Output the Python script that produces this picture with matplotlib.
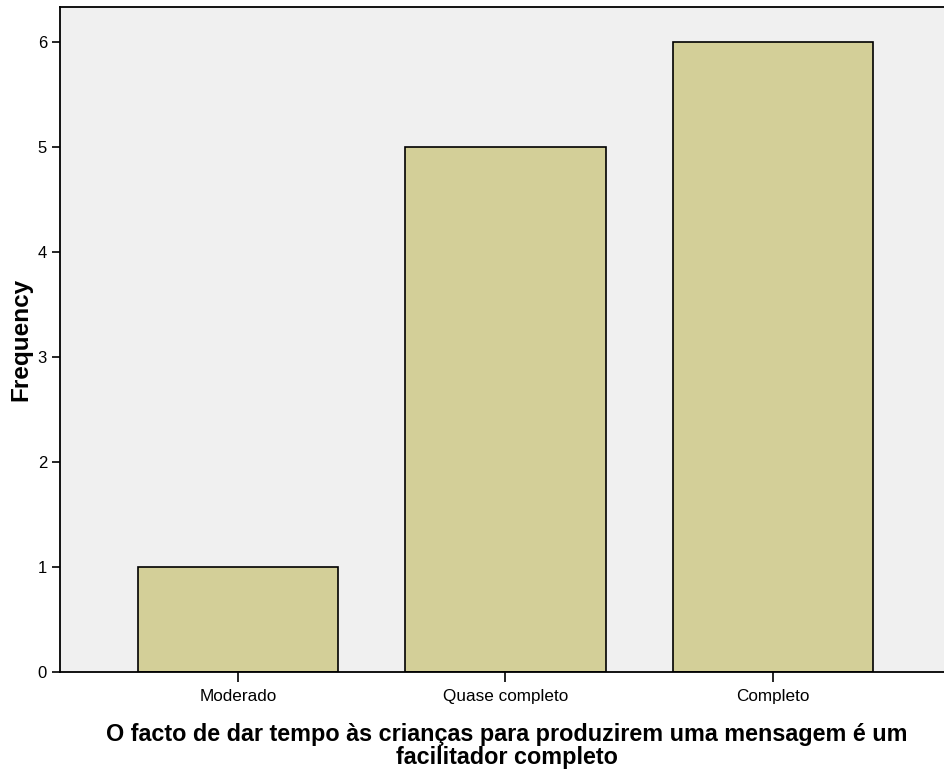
import matplotlib.pyplot as plt

plt.rcParams['font.family'] = ['Liberation Sans', 'DejaVu Sans']

categories = ['Moderado', 'Quase completo', 'Completo']
frequencies = [1, 5, 6]
y_ticks = [0, 1, 2, 3, 4, 5, 6]

fig = plt.figure(figsize=(9.45, 7.71), dpi=100)
ax = fig.add_axes([0.063, 0.1284, 0.937, 0.8619])
ax.set_facecolor('#f0f0f0')

x = range(len(categories))
ax.bar(x, frequencies, width=0.75, color='#d3cf98', edgecolor='black', linewidth=1.2)

ax.set_xlim(-0.667, 2.643)
ax.set_ylim(0, 6.33)
ax.set_xticks(list(x))
ax.set_xticklabels(categories, fontsize=12.3)
ax.set_yticks(y_ticks)
ax.set_yticklabels([str(t) for t in y_ticks], fontsize=12)
ax.tick_params(axis='x', direction='out', length=7, width=1.2, pad=5)
ax.tick_params(axis='y', direction='out', length=6, width=1.2, pad=3)

for side in ['left', 'top', 'bottom']:
    ax.spines[side].set_linewidth(1.3)
ax.spines['right'].set_visible(False)

ax.set_ylabel('Frequency', fontsize=17.5, fontweight='bold', labelpad=4)
ax.set_xlabel('O facto de dar tempo às crianças para produzirem uma mensagem é um\nfacilitador completo',
              fontsize=16.8, fontweight='bold', linespacing=1.02)
ax.xaxis.set_label_coords(0.5055, -0.076, transform=ax.transAxes)
ax.xaxis.label.set_verticalalignment('top')

fig.savefig('out.png', dpi=100)
